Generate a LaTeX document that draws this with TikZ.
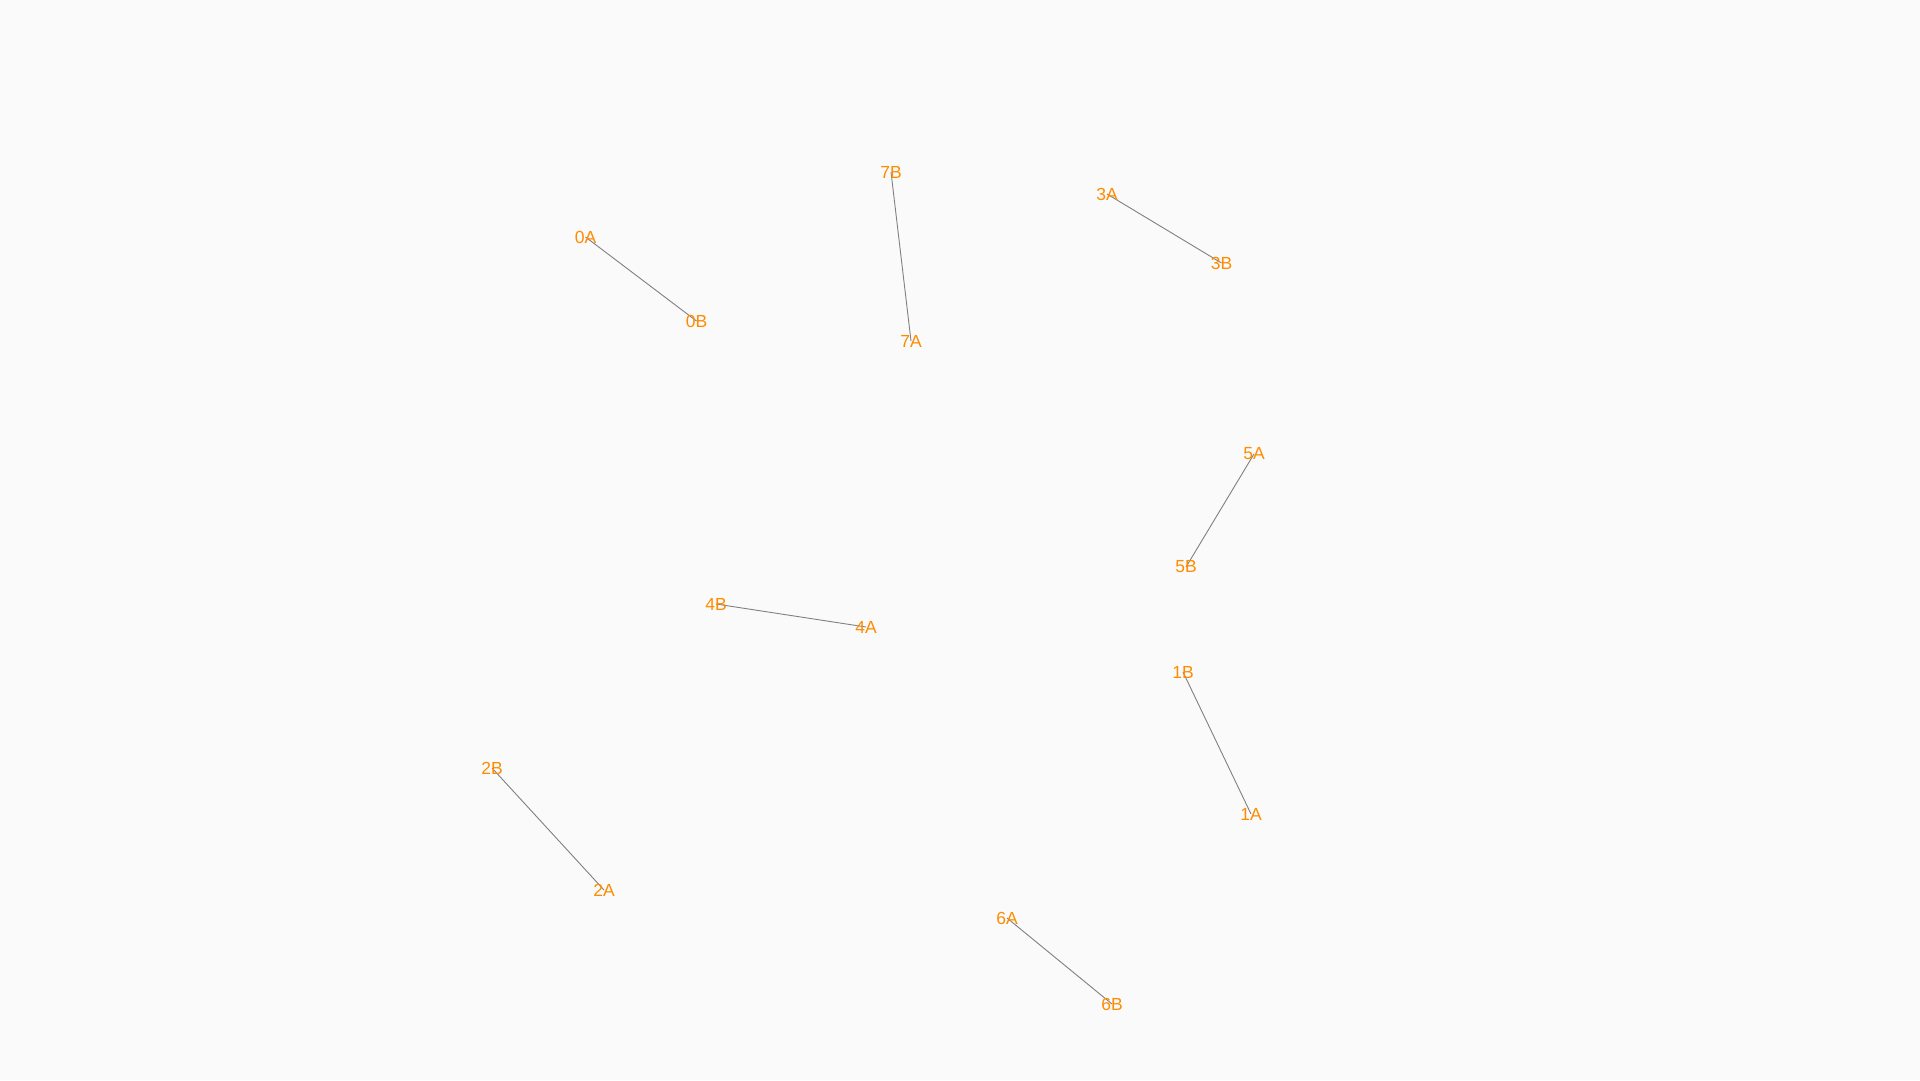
\documentclass[tikz,border=0pt]{standalone}
\usepackage{fontspec}
\setmainfont{Liberation Sans}
\usetikzlibrary{backgrounds}
\definecolor{bgc}{HTML}{FAFAFA}
\definecolor{lbl}{HTML}{FF8C00}
\definecolor{edge}{HTML}{808080}
\begin{document}
\begin{tikzpicture}[x=1pt,y=-1pt,
  lab/.style={text=lbl,font=\fontsize{17.5pt}{17.5pt}\selectfont,inner sep=0pt},
  link/.style={draw=edge,line width=0.9pt}]
\begin{pgfonlayer}{background}
\fill[bgc] (0,0) rectangle (1920,1080);
\end{pgfonlayer}
\useasboundingbox (0,0) rectangle (1920,1080);
\begin{scope}[yshift=-1pt]
\node[lab] (n0A) at (585.5,236) {0A};
\node[lab] (n0B) at (696.5,320) {0B};
\node[lab] (n7B) at (891,171) {7B};
\node[lab] (n7A) at (911,340) {7A};
\node[lab] (n3A) at (1107,193) {3A};
\node[lab] (n3B) at (1221.5,262) {3B};
\node[lab] (n5A) at (1254,453) {5A};
\node[lab] (n5B) at (1186,566) {5B};
\node[lab] (n4B) at (716,603) {4B};
\node[lab] (n4A) at (866,626) {4A};
\node[lab] (n1B) at (1183,671) {1B};
\node[lab] (n1A) at (1251,813) {1A};
\node[lab] (n2B) at (492,767) {2B};
\node[lab] (n2A) at (604,889) {2A};
\node[lab] (n6A) at (1007,917) {6A};
\node[lab] (n6B) at (1112,1003) {6B};
\end{scope}
\begin{pgfonlayer}{background}
\draw[link] (n0A.center) -- (n0B.center);
\draw[link] (n7B.center) -- (n7A.center);
\draw[link] (n3A.center) -- (n3B.center);
\draw[link] (n5A.center) -- (n5B.center);
\draw[link] (n4B.center) -- (n4A.center);
\draw[link] (n1B.center) -- (n1A.center);
\draw[link] (n2B.center) -- (n2A.center);
\draw[link] (n6A.center) -- (n6B.center);
\end{pgfonlayer}
\end{tikzpicture}
\end{document}
